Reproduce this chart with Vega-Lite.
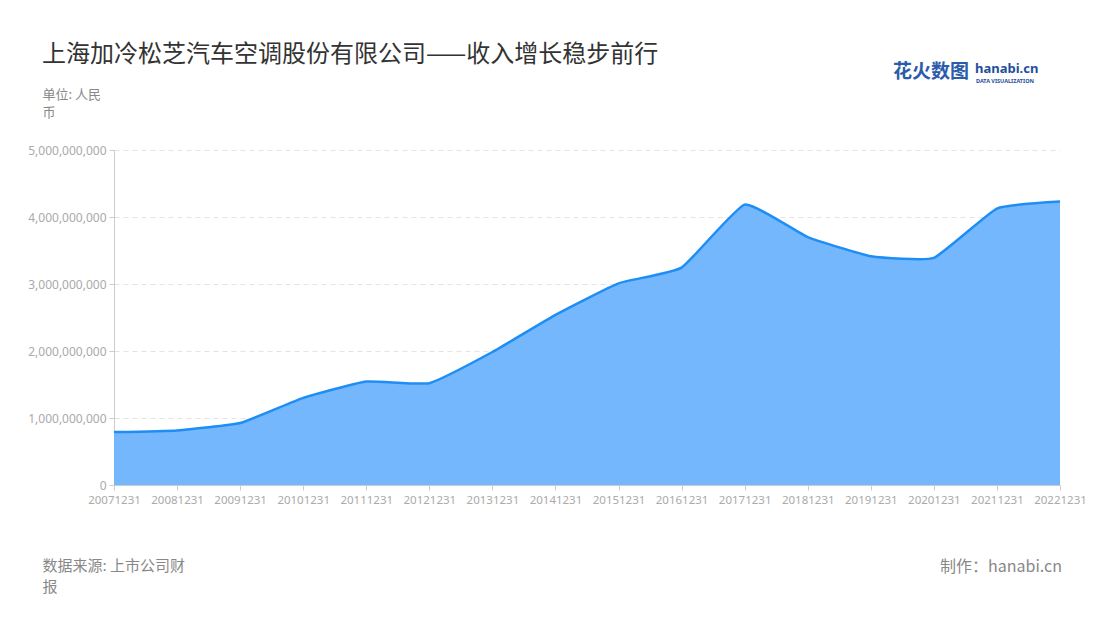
{
  "$schema": "https://vega.github.io/schema/vega-lite/v6.json",
  "width": 946,
  "height": 335,
  "autosize": {"type": "none"},
  "padding": {"left": 114, "top": 150, "right": 40, "bottom": 135},
  "background": "white",
  "config": {
    "font": "Noto Sans CJK SC",
    "view": {"stroke": null}
  },
  "title": {
    "text": "上海加冷松芝汽车空调股份有限公司——收入增长稳步前行",
    "anchor": "start",
    "frame": "group",
    "dx": -72,
    "offset": -4,
    "fontSize": 24,
    "fontWeight": "normal",
    "color": "#333333",
    "font": "Noto Sans CJK SC"
  },
  "data": {
    "values": [
      {"date": "20071231", "revenue": 790000000},
      {"date": "20081231", "revenue": 815000000},
      {"date": "20091231", "revenue": 925000000},
      {"date": "20101231", "revenue": 1300000000},
      {"date": "20111231", "revenue": 1545000000},
      {"date": "20121231", "revenue": 1520000000},
      {"date": "20131231", "revenue": 1985000000},
      {"date": "20141231", "revenue": 2540000000},
      {"date": "20151231", "revenue": 3010000000},
      {"date": "20161231", "revenue": 3245000000},
      {"date": "20171231", "revenue": 4185000000},
      {"date": "20181231", "revenue": 3700000000},
      {"date": "20191231", "revenue": 3415000000},
      {"date": "20201231", "revenue": 3390000000},
      {"date": "20211231", "revenue": 4125000000},
      {"date": "20221231", "revenue": 4230000000}
    ]
  },
  "encoding": {
    "x": {
      "field": "date",
      "type": "ordinal",
      "scale": {"type": "point", "padding": 0},
      "axis": {
        "labelAngle": 0,
        "labelFontSize": 11.5,
        "labelColor": "#aaaaaa",
        "labelFont": "Noto Sans",
        "domainColor": "#cccccc",
        "tickColor": "#cccccc",
        "tickSize": 5,
        "labelPadding": 4,
        "grid": false,
        "title": ["数据来源: 上市公司财", "报"],
        "titleFontSize": 15,
        "titleFontWeight": "normal",
        "titleColor": "#888888",
        "titleX": -72,
        "titleY": 73,
        "titleAlign": "left",
        "titleBaseline": "top",
        "titleLineHeight": 21
      }
    },
    "y": {
      "field": "revenue",
      "type": "quantitative",
      "scale": {"domain": [0, 5000000000], "nice": false},
      "axis": {
        "format": ",.0f",
        "values": [0, 1000000000, 2000000000, 3000000000, 4000000000, 5000000000],
        "labelFontSize": 12,
        "labelColor": "#aaaaaa",
        "labelFont": "Noto Sans",
        "domainColor": "#cccccc",
        "tickColor": "#cccccc",
        "tickSize": 5,
        "labelPadding": 3,
        "grid": true,
        "gridColor": "#e3e3e3",
        "gridDash": [5, 4],
        "title": ["单位: 人民", "币"],
        "titleAngle": 0,
        "titleFontSize": 13,
        "titleFontWeight": "normal",
        "titleColor": "#888888",
        "titleX": -72,
        "titleY": -62,
        "titleAlign": "left",
        "titleBaseline": "top",
        "titleLineHeight": 18
      }
    }
  },
  "layer": [
    {
      "mark": {"type": "area", "color": "#74b7fc", "opacity": 1, "interpolate": "cardinal", "tension": 0.6}
    },
    {
      "mark": {"type": "line", "color": "#1e8ef5", "strokeWidth": 2.5, "interpolate": "cardinal", "tension": 0.6}
    },
    {
      "data": {"values": [{"label": "制作：hanabi.cn"}]},
      "mark": {"type": "text", "align": "right", "baseline": "middle", "fontSize": 16, "color": "#888888", "font": "Noto Sans CJK SC"},
      "encoding": {
        "text": {"field": "label"},
        "x": {"value": 948},
        "y": {"value": 417}
      }
    },
    {
      "data": {"values": [{"label": "花火数图"}]},
      "mark": {"type": "text", "align": "left", "baseline": "middle", "fontSize": 19, "fontWeight": "bold", "color": "#2a5caa", "font": "Noto Sans CJK SC"},
      "encoding": {
        "text": {"field": "label"},
        "x": {"value": 779},
        "y": {"value": -78}
      }
    },
    {
      "data": {"values": [{"label": "hanabi.cn"}]},
      "mark": {"type": "text", "align": "left", "baseline": "middle", "fontSize": 13, "fontWeight": "bold", "color": "#1f4e9c", "font": "Noto Sans"},
      "encoding": {
        "text": {"field": "label"},
        "x": {"value": 861},
        "y": {"value": -81}
      }
    },
    {
      "data": {"values": [{"label": "DATA VISUALIZATION"}]},
      "mark": {"type": "text", "align": "left", "baseline": "middle", "fontSize": 5.5, "fontWeight": "bold", "color": "#1f4e9c", "font": "Noto Sans"},
      "encoding": {
        "text": {"field": "label"},
        "x": {"value": 862},
        "y": {"value": -69}
      }
    }
  ]
}
